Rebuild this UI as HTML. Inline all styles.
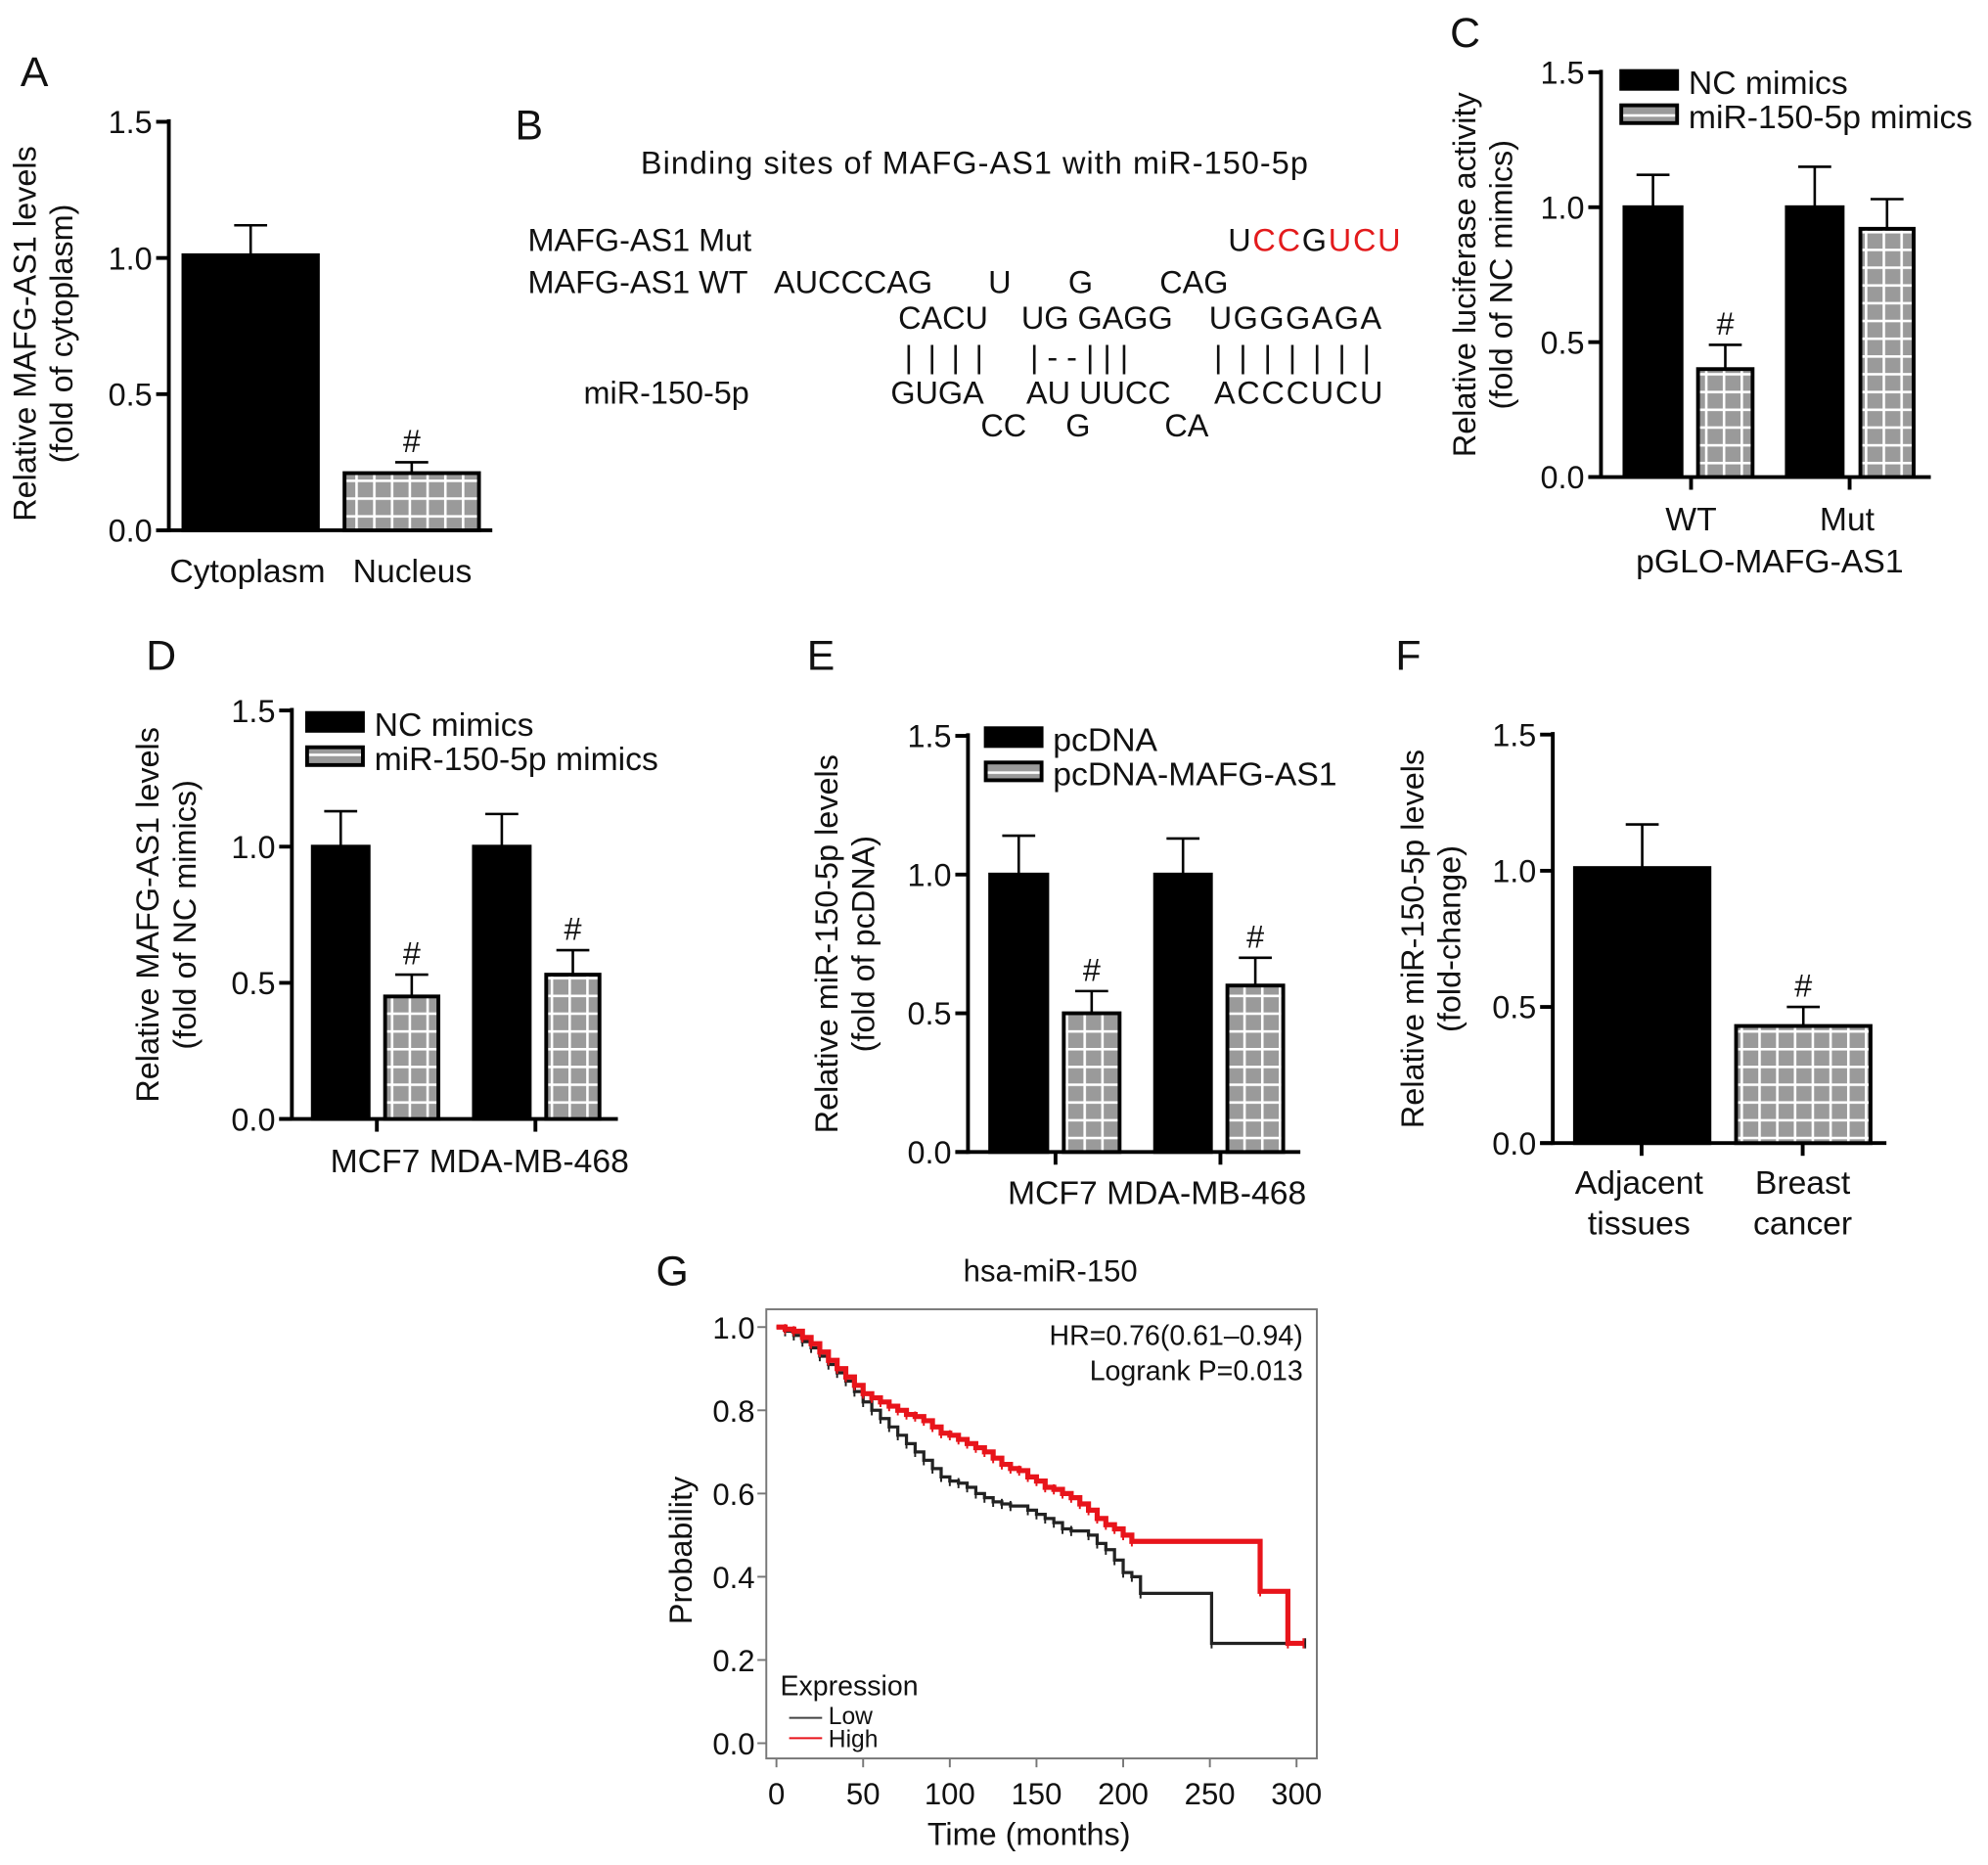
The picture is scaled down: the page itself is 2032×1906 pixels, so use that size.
<!DOCTYPE html>
<html><head><meta charset="utf-8">
<style>
html,body{margin:0;padding:0;background:#fff;}
svg{display:block;font-family:"Liberation Sans",Arial,sans-serif;}
</style></head>
<body>
<svg id="fig" width="2032" height="1906" viewBox="0 0 1567 1470" xmlns="http://www.w3.org/2000/svg">
<defs>
<pattern id="hatch" patternUnits="userSpaceOnUse" width="14" height="14">
<rect width="14" height="14" fill="#9a9a9a"/>
<rect x="0" y="0" width="14" height="2" fill="#fff"/>
<rect x="0" y="0" width="2" height="14" fill="#fff"/>
</pattern>
<pattern id="hatchleg" patternUnits="userSpaceOnUse" width="8" height="14">
<rect width="8" height="14" fill="#9a9a9a"/>
<rect x="0" y="6" width="8" height="2" fill="#fff"/>
</pattern>
</defs>
<g id="panelB" font-size="25" fill="#111">
<text x="406" y="110" font-size="33">B</text>
<text x="505" y="137" textLength="526">Binding sites of MAFG-AS1 with miR-150-5p</text>
<text x="416" y="198">MAFG-AS1 Mut</text>
<text x="968" y="198" textLength="136">U<tspan fill="#e31a1c">CC</tspan>G<tspan fill="#e31a1c">UCU</tspan></text>
<text x="416" y="231">MAFG-AS1 WT</text>
<text x="610" y="231">AUCCCAG</text>
<text x="779" y="231">U</text>
<text x="842" y="231">G</text>
<text x="914" y="231">CAG</text>
<text x="708" y="259">CACU</text>
<text x="805" y="259">UG GAGG</text>
<text x="953" y="259" textLength="136">UGGGAGA</text>
<text x="713" y="290" letter-spacing="12">||||</text>
<text x="812" y="290">|  -  -  |  |  |</text>
<text x="957" y="290" letter-spacing="13">|||||||</text>
<text x="460" y="318">miR-150-5p</text>
<text x="702" y="318">GUGA</text>
<text x="809" y="318">AU UUCC</text>
<text x="957" y="318" textLength="133">ACCCUCU</text>
<text x="773" y="344">CC</text>
<text x="840" y="344">G</text>
<text x="918" y="344">CA</text>
</g>
</svg>
<script>
// ---- bar chart data ----
const aCats = ["Cytoplasm","Nucleus"];
const aVals = [1.01, 0.21];
const aErrs = [0.11, 0.04];
const cGroups = ["WT","Mut"];
const cNC = [1.0, 1.0];
const cNCerr = [0.12, 0.15];
const cMir = [0.40, 0.92];
const cMirErr = [0.09, 0.11];
const dGroups = ["MCF7","MDA-MB-468"];
const dNC = [1.0, 1.0];
const dNCerr = [0.13, 0.12];
const dMir = [0.45, 0.53];
const dMirErr = [0.08, 0.09];
const eGroups = ["MCF7","MDA-MB-468"];
const eCtrl = [1.0, 1.0];
const eCtrlErr = [0.14, 0.13];
const eOver = [0.50, 0.60];
const eOverErr = [0.08, 0.10];
const fCats = ["Adjacent tissues","Breast cancer"];
const fVals = [1.01, 0.43];
const fErrs = [0.16, 0.07];
const barTicks = ["0.0","0.5","1.0","1.5"];
// ---- KM data ----
const lowT = [0,5,10,15,20,25,30,35,40,45,50,55,60,65,70,75,80,85,90,95,100,105,110,115,120,125,130,135,140,145,150,155,160,165,170,175,180,185,190,195,200,205,210,250,251,305];
const lowS = [1.0,0.99,0.98,0.965,0.95,0.93,0.91,0.89,0.87,0.845,0.82,0.80,0.78,0.76,0.74,0.72,0.70,0.68,0.66,0.64,0.63,0.625,0.615,0.60,0.59,0.58,0.575,0.57,0.57,0.56,0.55,0.54,0.53,0.515,0.51,0.51,0.50,0.48,0.465,0.44,0.41,0.40,0.36,0.36,0.24,0.24];
const highT = [0,5,10,15,20,25,30,35,40,45,50,55,60,65,70,75,80,85,90,95,100,105,110,115,120,125,130,135,140,145,150,155,160,165,170,175,180,185,190,195,200,205,278,279,294,295,304];
const highS = [1.0,0.995,0.99,0.975,0.96,0.94,0.92,0.90,0.88,0.86,0.84,0.83,0.82,0.81,0.80,0.79,0.785,0.775,0.76,0.745,0.74,0.73,0.72,0.71,0.70,0.685,0.67,0.66,0.655,0.64,0.63,0.615,0.61,0.60,0.59,0.575,0.56,0.54,0.525,0.515,0.50,0.485,0.485,0.365,0.365,0.24,0.24];
const kmXTicks = [0,50,100,150,200,250,300];
const kmYTicks = ["0.0","0.2","0.4","0.6","0.8","1.0"];

const NS="http://www.w3.org/2000/svg";
const svg=document.getElementById('fig');
function el(tag,attrs,parent){const e=document.createElementNS(NS,tag);for(const k in attrs)e.setAttribute(k,attrs[k]);(parent||svg).appendChild(e);return e;}
function txt(x,y,s,size,anchor,parent,extra){const t=el('text',Object.assign({x:x,y:y,'font-size':size,'text-anchor':anchor||'start',fill:'#111'},extra||{}),parent);t.textContent=s;return t;}

function barPanel(o){
  const g=el('g',{});
  
  
  const ys=v=>o.y0-(o.y0-o.y15)*v/1.5;
  const ax=el('line',{x1:o.ax,y1:o.y15-2,x2:o.ax,y2:o.y0+1.5,stroke:'#000','stroke-width':3},g);
  
  
  barTicks.forEach((t,i)=>{
    const y=ys(parseFloat(t));
    el('line',{x1:o.ax-10,y1:y,x2:o.ax,y2:y,stroke:'#000','stroke-width':3},g);
    const tl=txt(o.ax-13,y+9,t,25,'end',g);
    
    
  });
  const xa=el('line',{x1:o.ax-10,y1:o.y0,x2:o.xend,y2:o.y0,stroke:'#000','stroke-width':3},g);
  
  
  o.bars.forEach(b=>{
    const top=ys(b.v);
    const r=el('rect',{x:b.x+1.5,y:top,width:b.w-3,height:o.y0-top,fill:b.hatch?'url(#hatch)':'#000',stroke:'#000','stroke-width':3},g);
    
    
    const cx=b.x+b.w/2, et=ys(b.v+b.e);
    el('line',{x1:cx,y1:top,x2:cx,y2:et,stroke:'#000','stroke-width':2},g);
    el('line',{x1:cx-13,y1:et,x2:cx+13,y2:et,stroke:'#000','stroke-width':2},g);
    if(b.sig){const s=txt(cx,et-8,'#',25,'middle',g);}
  });
  (o.ticks||[]).forEach(x=>el('line',{x1:x,y1:o.y0,x2:x,y2:o.y0+10,stroke:'#000','stroke-width':3},g));
  const yt=el('text',{transform:`translate(${o.ytx},${(o.y0+o.y15)/2+o.ytdy}) rotate(-90)`,'text-anchor':'middle','font-size':25,fill:'#111'},g);
  
  
  o.ytitle.forEach((l,i)=>{const ts=el('tspan',{x:0,dy:i?29:0},yt);ts.textContent=l;});
  o.xlabels.forEach(l=>{const t=txt(l.x,l.y,l.s,26,'middle',g);});
  if(o.legend){o.legend.forEach((L,i)=>{
    const ly=o.legend.y+i*27;
    const r=el('rect',{x:o.legend.x,y:ly-8,width:44,height:14,fill:L.hatch?'url(#hatchleg)':'#000',stroke:'#000','stroke-width':3},g);
    
    
    const t=txt(o.legend.x+53,ly+10,L.s,26,'start',g);
    
    
  });}
  const pl=txt(o.lx,o.ly,o.label,33,'start',g);
  
  
}
const L2=(a,b)=>[{s:a,hatch:false},{s:b,hatch:true}];
// A
barPanel({name:'panel-a-chart',label:'A',lx:16,ly:68,ax:133,y0:418,y15:96,xend:388,ytx:28,ytdy:6,
 ytitle:['Relative MAFG-AS1 levels','(fold of cytoplasm)'],
 bars:aVals.map((v,i)=>({x:[143,270][i],w:109,v:v,e:aErrs[i],hatch:i==1,sig:i==1,name:'bar-'+aCats[i].toLowerCase()})),
 xlabels:aCats.map((c,i)=>({x:[195,325][i],y:459,s:c}))});
// C
(function(){const leg=L2('NC mimics','miR-150-5p mimics');leg.x=1278;leg.y=64;
barPanel({name:'panel-c-chart',label:'C',lx:1143,ly:37,ax:1262,y0:376,y15:57,xend:1522,ytx:1163,ytdy:0,
 ytitle:['Relative luciferase activity','(fold of NC mimics)'],
 bars:[{x:1279,w:48,v:cNC[0],e:cNCerr[0],name:'bar-wt-nc'},{x:1337,w:46,v:cMir[0],e:cMirErr[0],hatch:true,sig:true,name:'bar-wt-mir'},
       {x:1407,w:47,v:cNC[1],e:cNCerr[1],name:'bar-mut-nc'},{x:1465,w:45,v:cMir[1],e:cMirErr[1],hatch:true,name:'bar-mut-mir'}],
 ticks:[1333,1458],legend:leg,
 xlabels:[{x:1333,y:418,s:cGroups[0]},{x:1456,y:418,s:cGroups[1]},{x:1395,y:451,s:'pGLO-MAFG-AS1'}]});})();
// D
(function(){const leg=L2('NC mimics','miR-150-5p mimics');leg.x=242;leg.y=570;
barPanel({name:'panel-d-chart',label:'D',lx:115,ly:528,ax:230,y0:882,y15:560,xend:487,ytx:125,ytdy:0,
 ytitle:['Relative MAFG-AS1 levels','(fold of NC mimics)'],
 bars:[{x:245,w:47,v:dNC[0],e:dNCerr[0],name:'bar-mcf7-nc'},{x:302,w:45,v:dMir[0],e:dMirErr[0],hatch:true,sig:true,name:'bar-mcf7-mir'},
       {x:372,w:47,v:dNC[1],e:dNCerr[1],name:'bar-mda-nc'},{x:429,w:45,v:dMir[1],e:dMirErr[1],hatch:true,sig:true,name:'bar-mda-mir'}],
 ticks:[297,422],legend:leg,
 xlabels:[{x:378,y:924,s:dGroups[0]+' '+dGroups[1]}]});})();
// E
(function(){const leg=L2('pcDNA','pcDNA-MAFG-AS1');leg.x=777;leg.y=582;
barPanel({name:'panel-e-chart',label:'E',lx:636,ly:528,ax:763,y0:908,y15:580,xend:1025,ytx:660,ytdy:0,
 ytitle:['Relative miR-150-5p levels','(fold of pcDNA)'],
 bars:[{x:779,w:48,v:eCtrl[0],e:eCtrlErr[0],name:'bar-mcf7-pcdna'},{x:837,w:47,v:eOver[0],e:eOverErr[0],hatch:true,sig:true,name:'bar-mcf7-mafg'},
       {x:909,w:47,v:eCtrl[1],e:eCtrlErr[1],name:'bar-mda-pcdna'},{x:966,w:47,v:eOver[1],e:eOverErr[1],hatch:true,sig:true,name:'bar-mda-mafg'}],
 ticks:[832,962],legend:leg,
 xlabels:[{x:912,y:949,s:eGroups[0]+' '+eGroups[1]}]});})();
// F
barPanel({name:'panel-f-chart',label:'F',lx:1100,ly:528,ax:1224,y0:901,y15:579,xend:1487,ytx:1122,ytdy:0,
 ytitle:['Relative miR-150-5p levels','(fold-change)'],
 bars:fVals.map((v,i)=>({x:[1240,1367][i],w:109,v:v,e:fErrs[i],hatch:i==1,sig:i==1,name:'bar-'+['adjacent','cancer'][i]})),
 ticks:[1294,1421],
 xlabels:[{x:1292,y:941,s:'Adjacent'},{x:1292,y:973,s:'tissues'},{x:1421,y:941,s:'Breast'},{x:1421,y:973,s:'cancer'}]});

// G: KM
(function(){
  const g=el('g',{});
  
  
  const X0=612,X1=1022,Y0=1374,Y1=1046;
  const xs=t=>X0+(X1-X0)*t/300, ys=s=>Y0-(Y0-Y1)*s;
  const box=el('rect',{x:604,y:1032,width:434,height:354,fill:'none',stroke:'#777','stroke-width':1.5},g);
  
  
  kmYTicks.forEach(t=>{const y=ys(parseFloat(t));el('line',{x1:597,y1:y,x2:604,y2:y,stroke:'#777','stroke-width':1.5},g);
    const l=txt(595,y+9,t,24,'end',g);});
  kmXTicks.forEach(t=>{const x=xs(t);el('line',{x1:x,y1:1386,x2:x,y2:1393,stroke:'#777','stroke-width':1.5},g);
    const l=txt(x,1422,String(t),24,'middle',g);});
  function curve(T,S,color,w,name){
    let d='M'+xs(T[0])+','+ys(S[0]);
    for(let i=1;i<T.length;i++){d+=' H'+xs(T[i])+' V'+ys(S[i]);}
    const p=el('path',{d:d,fill:'none',stroke:color,'stroke-width':w},g);
    
    
    for(let i=1;i<T.length;i++){if(S[i]===S[i-1]&&i<T.length-1)continue;const x=xs(T[i]),y=ys(S[i]);
      el('line',{x1:x,y1:y-4,x2:x,y2:y+4,stroke:color,'stroke-width':1.5},g);}
  }
  curve(lowT,lowS,'#222',2.5,'low-expression-curve');
  curve(highT,highS,'#e8141b',4,'high-expression-curve');
  const tt=txt(828,1010,'hsa-miR-150',24,'middle',g);
  const a1=txt(1027,1060,'HR=0.76(0.61\u20130.94)',22,'end',g);
  const a2=txt(1027,1088,'Logrank P=0.013',22,'end',g);
  const yt=el('text',{transform:'translate(545,1222) rotate(-90)','text-anchor':'middle','font-size':25,fill:'#111'},g);yt.textContent='Probability';
  
  const xt=txt(811,1454,'Time (months)',25,'middle',g);
  const le=txt(615,1336,'Expression',22,'start',g);
  el('line',{x1:622,y1:1354,x2:648,y2:1354,stroke:'#444','stroke-width':1.5},g);
  const l1=txt(653,1359,'Low',19,'start',g);
  el('line',{x1:622,y1:1370,x2:648,y2:1370,stroke:'#e8141b','stroke-width':1.5},g);
  const l2=txt(653,1377,'High',19,'start',g);
  const pl=txt(517,1013,'G',33,'start',g);
})();
</script>
</body></html>
